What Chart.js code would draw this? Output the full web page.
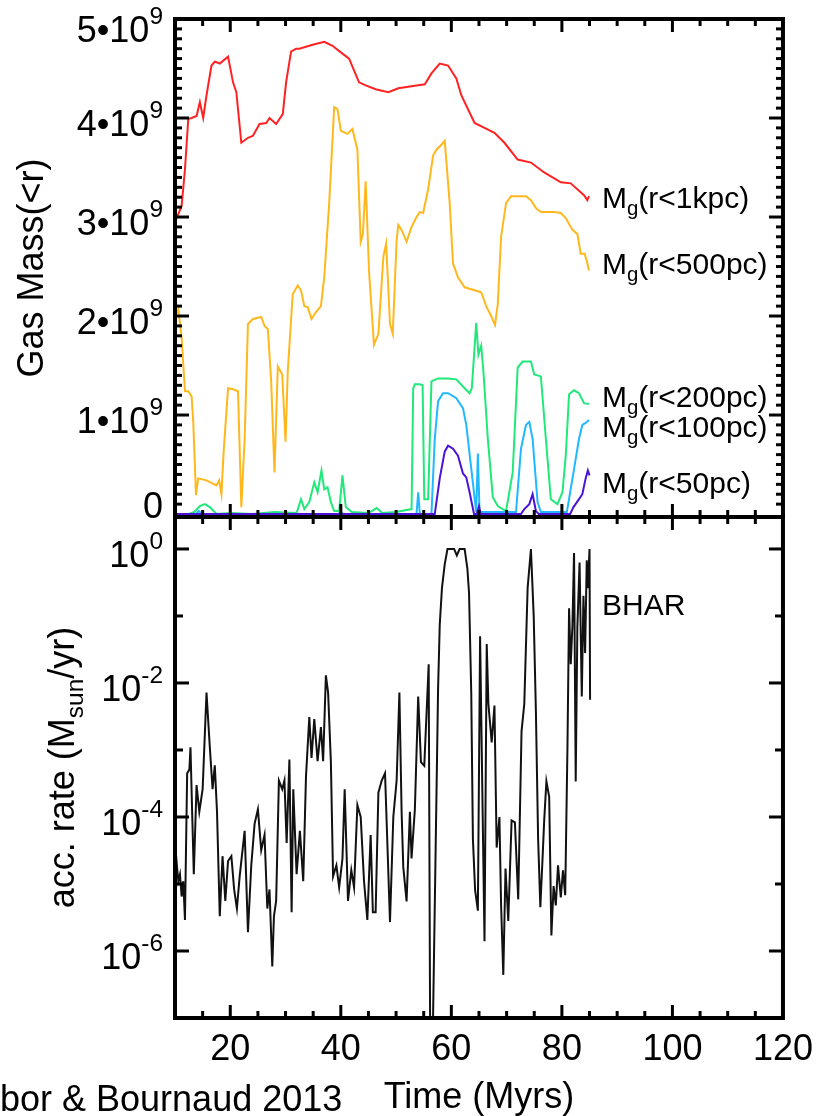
<!DOCTYPE html>
<html>
<head>
<meta charset="utf-8">
<script src="https://cdn.jsdelivr.net/npm/chart.js@4.4.1/dist/chart.umd.min.js"></script>
<style>
  html, body { margin: 0; padding: 0; background: #fff; }
  canvas { display: block; }
</style>
</head>
<body>
<canvas id="chart" width="823" height="1116"></canvas>
<script>
const FONT = '"Liberation Sans", Arial, Helvetica, sans-serif'

// gas mass inside r, units of 1e9 Msun, as [time (Myr), mass]
const gas1kpc = [[10,2.95],[11.2,3.11],[11.8,3.48],[12.4,3.99],[13.0,4.00],[13.9,4.02],[14.5,4.16],[15.1,4.00],[15.7,4.23],[16.6,4.53],[17.2,4.57],[18.1,4.55],[19.6,4.62],[20.5,4.36],[21.1,4.26],[22.0,3.75],[23.2,3.80],[24.1,3.82],[25.3,3.94],[26.5,3.95],[27.1,4.00],[28.3,3.94],[29.5,4.04],[30.1,4.36],[31.0,4.67],[31.9,4.70],[32.5,4.70],[33.7,4.72],[34.9,4.74],[37.0,4.77],[38.5,4.73],[40.3,4.65],[41.5,4.60],[43.3,4.36],[44.5,4.33],[46.3,4.29],[48.6,4.26],[50.4,4.30],[54.0,4.33],[55.2,4.34],[56.4,4.45],[57.9,4.55],[59.4,4.53],[60.9,4.40],[61.8,4.23],[64.2,3.95],[66.0,3.90],[67.8,3.85],[69.6,3.75],[72.0,3.58],[74.4,3.55],[76.8,3.45],[79.8,3.35],[81.6,3.34],[84.0,3.22],[84.6,3.17],[84.9,3.21]]
const gas500pc = [[10,1.99],[10.6,2.07],[11.2,1.78],[11.8,1.24],[12.4,1.24],[13.0,1.19],[13.3,0.93],[13.8,0.19],[14.2,0.36],[15.7,0.34],[17.5,0.29],[18.0,0.34],[18.4,0.20],[18.8,0.63],[19.6,1.27],[20.5,1.26],[21.4,1.24],[22.0,0.07],[22.6,0.76],[23.2,1.92],[24.1,1.97],[25.6,1.99],[26.2,1.90],[26.8,1.87],[27.4,1.34],[28.0,0.42],[28.6,1.49],[29.4,1.41],[30.0,0.73],[30.4,1.44],[31.3,2.22],[32.2,2.31],[32.8,2.26],[33.4,2.10],[34.0,2.09],[34.7,1.97],[35.5,2.04],[36.4,2.10],[37.0,2.39],[37.9,3.14],[38.8,4.11],[39.4,4.09],[40.0,3.87],[41.2,3.84],[42.1,3.89],[43.0,3.68],[43.6,2.75],[44.0,2.83],[44.5,3.36],[45.1,2.46],[46.0,1.71],[46.8,1.82],[47.7,2.60],[48.2,2.73],[48.9,1.92],[49.4,1.82],[50.1,2.77],[50.4,2.92],[51.0,2.87],[51.9,2.75],[52.8,2.90],[53.7,3.00],[54.3,3.05],[54.9,3.04],[55.8,3.28],[56.7,3.62],[57.3,3.68],[58.2,3.73],[58.8,3.77],[59.7,3.14],[60.3,2.53],[61.2,2.39],[62.4,2.29],[64.2,2.26],[65.4,2.24],[66.3,2.10],[67.2,2.00],[67.9,1.91],[68.4,2.12],[69.0,2.80],[69.9,3.14],[70.8,3.21],[72.6,3.21],[73.5,3.21],[74.4,3.17],[75.3,3.09],[76.2,3.05],[78.6,3.05],[79.8,3.04],[80.7,2.99],[81.9,2.87],[82.8,2.83],[83.4,2.63],[84.1,2.63],[84.5,2.56],[84.9,2.46]]
const gas200pc = [[10,0],[12.5,0],[13.5,0.02],[14.5,0.08],[15.4,0.10],[16.3,0.07],[17.5,0],[20,0.01],[24,0],[28,0.02],[32,0.01],[32.8,0.15],[33.4,0.05],[34.3,0.12],[35.2,0.32],[35.8,0.22],[36.5,0.44],[37.0,0.25],[37.6,0.27],[38.2,0.12],[38.8,0.03],[39.7,0.03],[40.3,0.39],[40.9,0.07],[42,0.02],[45,0.01],[46.5,0.06],[47.5,0.01],[50,0.02],[52.8,0.05],[53.1,1.27],[53.4,1.31],[54.3,1.31],[54.8,1.30],[55.1,0.15],[55.8,0.15],[56.4,1.34],[57.6,1.37],[59.4,1.37],[60.9,1.36],[62.4,1.27],[63.3,1.22],[63.7,1.27],[64.5,1.93],[64.9,1.61],[65.4,1.70],[65.8,1.44],[66.6,0.76],[67.5,0.17],[68.4,0.08],[69.9,0.03],[71.1,0.42],[72.0,1.48],[72.9,1.54],[74.4,1.54],[75.0,1.41],[76.2,1.39],[77.1,0.76],[78.0,0.15],[79.2,0.10],[80.1,0.22],[80.7,0.59],[81.3,1.21],[82.2,1.25],[83.1,1.22],[84.0,1.12],[84.9,1.11]]
const gas100pc = [[10,0],[13.8,0],[14.3,0.03],[15,0],[39.5,0],[40,0.02],[40.5,0],[53.7,0],[54.0,0.22],[54.3,0],[56.4,0],[57.0,0.76],[57.6,1.14],[58.5,1.22],[59.4,1.22],[60.9,1.17],[62.1,1.07],[62.7,0.90],[63.6,0.46],[64.5,0.02],[64.8,0.61],[65.1,0.02],[71.7,0.02],[72.6,0.66],[73.5,0.90],[74.1,0.93],[74.7,0.76],[75.6,0.12],[76.2,0.02],[80.9,0.02],[81.5,0.22],[82.1,0.42],[83.1,0.76],[83.7,0.90],[84.3,0.92],[84.9,0.95]]
const gas50pc = [[10,0],[57.0,0],[57.9,0.36],[58.8,0.63],[59.4,0.69],[60.3,0.66],[61.2,0.59],[62.1,0.41],[62.7,0.37],[63.3,0.22],[64.1,0],[64.6,0],[65.0,0.08],[65.3,0],[72.6,0],[73.2,0.05],[74.1,0.10],[74.7,0.20],[75.3,0.03],[75.8,0],[81.5,0],[82.1,0.07],[83.1,0.15],[83.7,0.20],[84.3,0.36],[84.7,0.44],[85.0,0.39]]

// black hole accretion rate, Msun/yr, as [time (Myr), rate]
const bhar = [[10,1.5e-5],[10.3,2.1e-5],[10.6,1.1e-5],[10.9,1.4e-5],[11.2,6.5e-6],[11.5,1.1e-5],[11.8,2.9e-6],[12.2,4.5e-4],[12.6,5.1e-4],[12.8,1.1e-3],[13.1,1.2e-4],[13.4,1.4e-5],[13.9,3.0e-4],[14.4,1.2e-4],[15.0,2.6e-4],[15.7,7.2e-3],[16.3,1.1e-3],[16.8,2.6e-4],[17.2,5.9e-4],[17.6,1.2e-4],[18.1,3.3e-6],[18.6,2.6e-5],[19.1,5.6e-6],[19.6,2.2e-5],[20.2,2.6e-5],[20.7,8.3e-6],[21.2,4.3e-6],[21.7,1.3e-5],[22.6,6.2e-5],[23.2,1.9e-6],[23.8,1.9e-5],[24.4,7.9e-5],[25.0,1.3e-4],[25.6,3.2e-5],[26.2,5.4e-5],[26.7,4.3e-6],[27.1,8.3e-6],[27.6,5.9e-7],[27.9,3.3e-6],[28.3,5.6e-6],[28.8,3.5e-4],[29.4,2.6e-4],[29.8,3.5e-4],[30.2,4.1e-5],[30.7,7.2e-4],[31.1,3.8e-6],[31.4,2.6e-4],[32.0,1.4e-5],[32.6,6.2e-5],[33.2,1.1e-5],[33.7,4.0e-4],[34.3,3.1e-3],[34.7,7.6e-4],[35.2,2.9e-3],[35.8,6.8e-4],[36.4,2.2e-3],[36.8,6.8e-4],[37.3,1.3e-2],[37.7,7.2e-3],[38.2,6.8e-4],[38.6,1.3e-5],[39.2,1.9e-5],[39.7,8.9e-6],[40.3,2.4e-5],[40.7,2.6e-4],[41.3,5.6e-6],[41.9,1.6e-5],[42.4,8.9e-6],[43.0,1.5e-4],[43.6,1.0e-4],[44.2,1.1e-5],[44.8,2.9e-6],[45.4,5.4e-5],[45.8,3.8e-6],[46.3,3.8e-6],[46.8,2.3e-4],[47.4,3.5e-4],[48.0,4.5e-4],[48.9,2.7e-6],[49.5,1.0e-4],[50.1,3.5e-4],[50.6,7.2e-3],[51.0,1.2e-4],[51.3,1.8e-5],[51.9,5.5e-6],[52.5,1.2e-4],[52.8,2.4e-5],[53.4,1.3e-4],[54.0,6.3e-3],[54.5,6.6e-4],[55.1,5.8e-4],[55.9,1.9e-2],[56.2,1e-8],[56.5,1e-8],[57.1,1.6e-5],[57.6,8.3e-3],[57.9,7.4e-2],[58.3,0.26],[58.8,0.59],[59.3,1],[60.5,1],[61.0,0.8],[61.5,1],[62.4,1],[62.9,0.51],[63.2,0.22],[63.6,7.2e-3],[63.9,4.7e-5],[64.3,8.1e-6],[64.8,4.0e-6],[65.2,5.0e-2],[65.5,1.0e-3],[66.0,1.4e-6],[66.4,3.8e-2],[66.7,4.9e-3],[67.3,1.3e-3],[67.8,4.6e-3],[68.2,3.5e-5],[68.7,1.0e-4],[69.0,4.8e-6],[69.4,4.4e-7],[69.8,1.7e-5],[70.3,2.8e-6],[70.9,8.9e-5],[71.5,8.3e-5],[72.1,5.9e-6],[72.7,1.9e-3],[73.2,4.9e-3],[73.8,0.26],[74.4,1],[74.9,0.10],[75.3,3.7e-3],[75.7,4.7e-5],[76.1,4.5e-6],[76.5,2.4e-5],[76.8,8.9e-5],[77.2,3.4e-4],[77.7,2.0e-4],[78.1,1.7e-6],[78.5,9.3e-6],[78.9,4.8e-6],[79.3,1.9e-5],[79.8,6.3e-6],[80.2,1.6e-5],[80.6,6.8e-6],[81.0,1.0e-3],[81.3,0.13],[81.6,1.9e-2],[81.9,6.9e-2],[82.2,0.87],[82.5,3.4e-4],[82.8,6.9e-2],[83.2,0.63],[83.6,6.3e-3],[83.9,0.20],[84.2,2.8e-2],[84.5,0.68],[84.7,0.26],[85.0,1.0],[85.1,5.6e-3]]

// axes
const xTicks = [20, 40, 60, 80, 100, 120]
const massTicks = [0, 1, 2, 3, 4, 5]
const massTickLabels = ['0', '1\u202210^{9}', '2\u202210^{9}', '3\u202210^{9}', '4\u202210^{9}', '5\u202210^{9}']
const rateTicks = [1e-6, 1e-4, 1e-2, 1]
const rateTickLabels = ['10^{-6}', '10^{-4}', '10^{-2}', '10^{0}']

const seriesNames = ['M_{g}(r<1kpc)', 'M_{g}(r<500pc)', 'M_{g}(r<200pc)', 'M_{g}(r<100pc)', 'M_{g}(r<50pc)', 'BHAR']

// label baselines, pixels
const labelX = 602
const labelY = [208, 274, 407, 437, 493, 615]

function pts(arr) { return arr.map(p => ({x: p[0], y: p[1]})) }

function parseRich(s) {
  const out = []
  const re = /([\^_])\{([^}]*)\}/g
  let last = 0, m
  while ((m = re.exec(s))) {
    if (m.index > last) out.push({t: s.slice(last, m.index), k: 0})
    out.push({t: m[2], k: m[1] === '^' ? 1 : -1})
    last = re.lastIndex
  }
  if (last < s.length) out.push({t: s.slice(last), k: 0})
  return out
}

function partSize(p, size) { return p.k === 0 ? size : size * 0.68 }

function richWidth(ctx, parts, size) {
  let w = 0
  for (const p of parts) {
    ctx.font = partSize(p, size) + 'px ' + FONT
    w += ctx.measureText(p.t).width
  }
  return w
}

// y is the baseline
function drawRich(ctx, s, x, y, size, align) {
  const parts = parseRich(s)
  const w = richWidth(ctx, parts, size)
  let cx = align === 'right' ? x - w : align === 'center' ? x - w / 2 : x
  ctx.textBaseline = 'alphabetic'
  ctx.textAlign = 'left'
  for (const p of parts) {
    const fs = partSize(p, size)
    ctx.font = fs + 'px ' + FONT
    const dy = p.k === 1 ? -0.5 * size : p.k === -1 ? 0.24 * size : 0
    ctx.fillText(p.t, cx, y + dy)
    cx += ctx.measureText(p.t).width
  }
}

const framePlugin = {
  id: 'frame',
  afterDraw(chart) {
    const {ctx, chartArea: a, scales} = chart
    const sx = scales.x, yt = scales.yTop, yb = scales.yBot
    ctx.save()
    ctx.strokeStyle = '#000'
    ctx.fillStyle = '#000'
    ctx.lineCap = 'butt'

    function line(x1, y1, x2, y2) {
      ctx.beginPath(); ctx.moveTo(x1, y1); ctx.lineTo(x2, y2); ctx.stroke()
    }

    // ticks
    ctx.lineWidth = 3
    const panels = [yt, yb]
    for (let v = 15; v < 120; v += 5) {
      const px = sx.getPixelForValue(v)
      const len = v % 20 === 0 ? 13 : 7
      for (const p of panels) {
        line(px, p.top, px, p.top + len)
        line(px, p.bottom, px, p.bottom - len)
      }
    }
    for (let k = 1; k < 50; k++) {
      const py = yt.getPixelForValue(k / 10)
      const len = k % 10 === 0 ? 14 : 7
      line(a.left, py, a.left + len, py)
      line(a.right, py, a.right - len, py)
    }
    for (let e = -6; e <= 0; e++) {
      const py = yb.getPixelForValue(Math.pow(10, e))
      const len = e % 2 === 0 ? 14 : 8
      line(a.left, py, a.left + len, py)
      line(a.right, py, a.right - len, py)
    }

    // frame
    ctx.lineWidth = 4
    ctx.strokeRect(a.left, a.top, a.right - a.left, a.bottom - a.top)
    line(a.left - 2, yt.bottom, a.right + 2, yt.bottom)

    // y tick labels, kept inside the panel edges like the original
    const TS = 36
    function yLabels(scale, vals, labels) {
      vals.forEach((v, i) => {
        const py = scale.getPixelForValue(v)
        const hasSup = labels[i].indexOf('^') >= 0
        let top = hasSup ? -0.5 * TS - 0.716 * TS * 0.68 : -0.716 * TS
        let h = -top
        let base = py - top - h / 2
        if (base + top < scale.top - 13) base = scale.top - 13 - top
        if (base > scale.bottom + 1) base = scale.bottom + 1
        drawRich(ctx, labels[i], a.left - 12, base, TS, 'right')
      })
    }
    yLabels(yt, massTicks, massTickLabels)
    yLabels(yb, rateTicks, rateTickLabels)

    // y titles
    ctx.save()
    ctx.translate(43, (yt.top + yt.bottom) / 2)
    ctx.rotate(-Math.PI / 2)
    drawRich(ctx, 'Gas Mass(<r)', 0, 0, 36, 'center')
    ctx.restore()
    ctx.save()
    ctx.translate(74, (yb.top + yb.bottom) / 2)
    ctx.rotate(-Math.PI / 2)
    drawRich(ctx, 'acc. rate (M_{sun}/yr)', 0, 0, 36, 'center')
    ctx.restore()

    // series labels
    seriesNames.forEach((s, i) => drawRich(ctx, s, labelX, labelY[i], 30, 'left'))

    // credit
    drawRich(ctx, 'bor & Bournaud 2013', 0, 1111, 36, 'left')
    ctx.restore()
  }
}

const line = (data, color, axis) => ({
  data: pts(data),
  borderColor: color,
  borderWidth: 2,
  pointRadius: 0,
  tension: 0,
  fill: false,
  yAxisID: axis
})

new Chart(document.getElementById('chart'), {
  type: 'line',
  data: {
    datasets: [
      line(bhar, '#111111', 'yBot'),
      line(gas50pc, '#4a14d6', 'yTop'),
      line(gas100pc, '#20b8ff', 'yTop'),
      line(gas200pc, '#20e87a', 'yTop'),
      line(gas500pc, '#ffb81c', 'yTop'),
      line(gas1kpc, '#ff2222', 'yTop')
    ]
  },
  options: {
    responsive: false,
    animation: false,
    events: [],
    layout: { padding: { top: 19, right: 36, bottom: 0, left: 0 } },
    plugins: { legend: { display: false }, tooltip: { enabled: false } },
    scales: {
      x: {
        type: 'linear',
        min: 10,
        max: 120,
        afterBuildTicks: s => { s.ticks = xTicks.map(v => ({value: v})) },
        afterFit: s => { s.height = 98 },
        grid: { display: false, drawTicks: false },
        border: { display: false },
        ticks: { color: '#000', font: { family: FONT, size: 36 }, padding: 10, maxRotation: 0, autoSkip: false },
        title: { display: true, text: 'Time (Myrs)', color: '#000', font: { family: FONT, size: 36, lineHeight: 1 }, padding: 0 }
      },
      yBot: {
        type: 'logarithmic',
        position: 'left',
        stack: 'panels',
        stackWeight: 501,
        min: 1e-7,
        max: 3,
        afterFit: s => { s.width = 175 },
        grid: { display: false, drawTicks: false },
        border: { display: false },
        ticks: { display: false }
      },
      yTop: {
        type: 'linear',
        position: 'left',
        stack: 'panels',
        stackWeight: 498,
        min: -0.03,
        max: 5,
        afterFit: s => { s.width = 175 },
        grid: { display: false, drawTicks: false },
        border: { display: false },
        ticks: { display: false }
      }
    }
  },
  plugins: [framePlugin]
})
</script>
</body>
</html>
